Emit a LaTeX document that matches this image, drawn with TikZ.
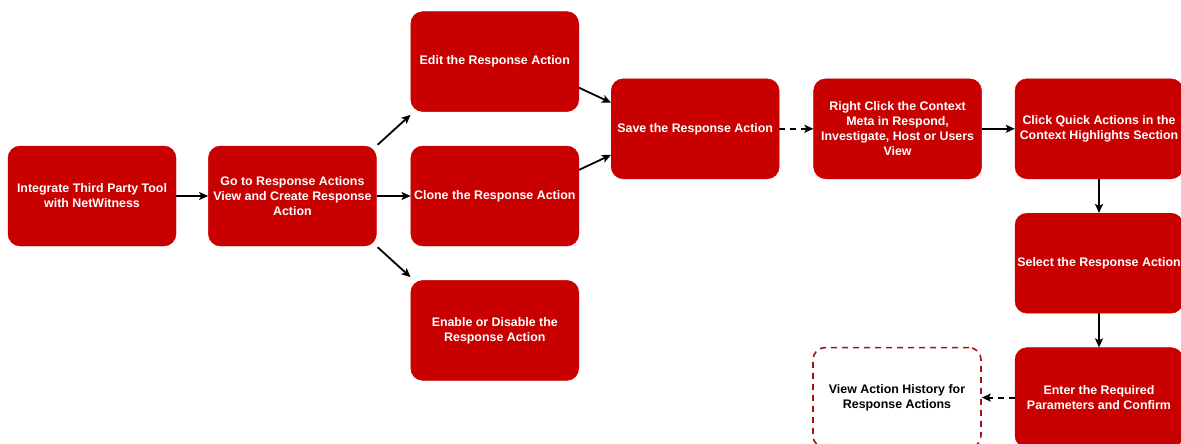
\documentclass[tikz,border=0pt]{standalone}
\usepackage{fontspec}
\setmainfont{Liberation Sans}
\usepackage{xcolor}
\usetikzlibrary{arrows.meta,positioning,calc}

\definecolor{stepred}{HTML}{C80000}
\definecolor{darkred}{HTML}{A31515}

\begin{document}
\begin{tikzpicture}[
    x=1pt, y=-1pt,
    box/.style={fill=stepred, draw=stepred, rounded corners=12pt, minimum width=168pt, minimum height=100pt, align=center, text=white, font=\fontsize{12.4}{15}\selectfont\bfseries, inner sep=1pt},
    outbox/.style={box, fill=white, draw=darkred, dashed, dash pattern=on 6pt off 5pt, line width=1.6pt, text=black},
    arrow/.style={-{Stealth[length=9pt,width=8pt,inset=2pt]}, line width=1.8pt},
    dasharrow/.style={arrow, dash pattern=on 6pt off 5pt},
]
    \useasboundingbox (0,0) rectangle (1181,444);

    \node[box] (tool) at (92,196) {Integrate Third Party Tool\\with NetWitness};
    \node[box, right=32pt of tool] (goto) {Go to Response Actions\\View and Create Response\\Action};
    \node[box, right=34pt of goto] (clone) {Clone the Response Action};
    \node[box, above=34pt of clone] (edit) {Edit the Response Action};
    \node[box, below=34pt of clone] (enable) {Enable or Disable the\\Response Action};
    \node[box, anchor=west] (save) at ($(edit.east)!0.5!(clone.east)+(32,0)$) {Save the Response Action};
    \node[box, right=34pt of save] (meta) {Right Click the Context\\Meta in Respond,\\Investigate, Host or Users\\View};
    \node[box, right=33pt of meta] (quick) {Click Quick Actions in the\\Context Highlights Section};
    \node[box, below=34pt of quick] (select) {Select the Response Action};
    \node[box, below=34pt of select] (enter) {Enter the Required\\Parameters and Confirm};
    \node[outbox, left=33pt of enter] (history) {View Action History for\\Response Actions};

    \draw[arrow] (tool) -- (goto);
    \draw[arrow] (goto) -- (clone);
    \draw[arrow] ($(goto.north east)+(1,-1)$) -- ($(edit.south west)+(0,3)$);
    \draw[arrow] ($(goto.south east)+(1,1)$) -- ($(enable.north west)+(0,-3)$);
    \draw[arrow] ($(edit.east)!0.52!(edit.south east)$) -- ($(save.west)!0.52!(save.north west)$);
    \draw[arrow] ($(clone.east)!0.52!(clone.north east)$) -- ($(save.west)!0.52!(save.south west)$);
    \draw[dasharrow] (save) -- (meta);
    \draw[arrow] (meta) -- (quick);
    \draw[arrow] (quick) -- (select);
    \draw[arrow] (select) -- (enter);
    \draw[dasharrow] (enter) -- (history);
\end{tikzpicture}
\end{document}
